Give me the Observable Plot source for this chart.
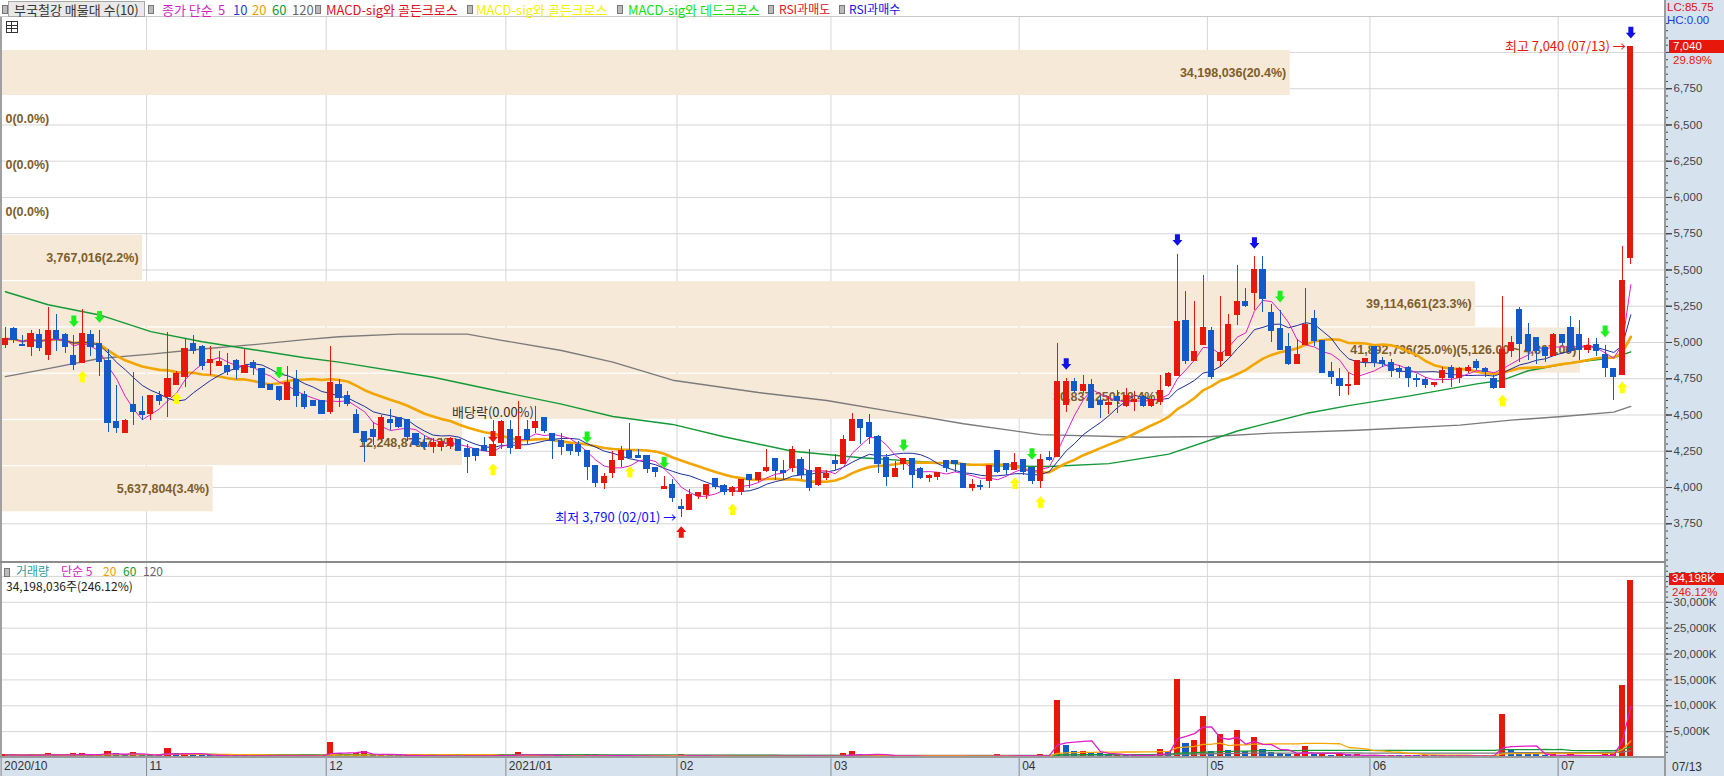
<!DOCTYPE html>
<html><head><meta charset="utf-8">
<script src="https://cdn.jsdelivr.net/npm/d3@7"></script>
<script src="https://cdn.jsdelivr.net/npm/@observablehq/plot@0.6"></script>
<style>
body{margin:0;background:#fff;}
#root{position:relative;width:1724px;height:776px;overflow:hidden;background:#fff;font-family:"Noto Sans CJK KR","Noto Sans",sans-serif;}
.a{position:absolute;white-space:nowrap;line-height:1;}
.lg{font-size:13px;top:3px;}
.mk{position:absolute;top:5px;width:4px;height:7px;background:#bbb;border:1px solid #777;}
svg{position:absolute;left:0;}
</style></head><body>
<div id="root">
  <div class="a" style="left:1664px;top:0;width:60px;height:776px;background:#d7e2ef;"></div>
  <div class="a" style="left:0;top:757px;width:1724px;height:19px;background:#d7e2ef;"></div>
</div>
<script>
// ---------------- DATA ----------------
const monthLabels = ["2020/10","11","12","2021/01","02","03","04","05","06","07"];
const monthStartIdx = [0,17,38,59,79,97,119,141,160,182];
const lastDateLabel = "07/13";
const lowDateLabel = "02/01";
const highDateLabel = "07/13";

const open = [
4985,5090,4980,4970,5050,4915,5080,5050,4905,4860,
5050,4990,4870,4450,4375,4565,4520,4510,4630,4625,
4705,4765,4990,4970,4860,4840,4835,4875,4790,4855,
4815,4705,4695,4605,4740,4640,4595,4595,4520,4705,
4630,4500,4385,4395,4335,4465,4480,4465,4365,4305,
4280,4280,4290,4330,4265,4265,4285,4215,4305,4395,
4265,4395,4410,4480,4370,4320,4295,4290,4250,4145,
4030,4100,4190,4250,4215,4215,4135,3990,4015,3865,
3845,3945,3950,4055,4010,3970,3970,4085,4055,4115,
4195,4110,4135,4190,4115,4020,4065,4180,4165,4320,
4465,4445,4350,4200,4070,4165,4195,4125,4065,4075,
4180,4180,4160,4000,4010,4045,4250,4160,4120,4190,
4135,4045,4205,4210,4570,4730,4665,4705,4595,4570,
4625,4565,4590,4625,4565,4590,4700,4770,5150,4875,
4985,5080,4870,4910,5190,5280,5340,5500,5200,5090,
4970,4850,4985,5160,5010,4795,4750,4700,4710,4865,
4970,4875,4860,4815,4825,4745,4740,4705,4755,4825,
4755,4805,4865,4815,4745,4690,4945,5220,5050,5030,
4960,4910,5050,5100,5050,4950,4980,4910,4815,4780,
5580];
const high = [
5100,5100,5050,5080,5090,5240,5190,5060,5050,5230,
5080,5080,4950,4705,4470,4795,4630,4630,4660,5070,
4800,5030,5050,4980,4970,4940,4925,4885,4955,4875,
4815,4705,4695,4835,4810,4660,4595,4595,4970,4745,
4665,4535,4385,4450,4495,4535,4485,4465,4370,4360,
4335,4335,4345,4330,4300,4265,4345,4460,4460,4460,
4595,4460,4560,4480,4370,4370,4295,4315,4250,4145,
4100,4250,4280,4440,4265,4215,4135,4075,4055,3920,
3985,3960,4020,4055,4020,4005,4055,4085,4100,4265,
4195,4185,4285,4205,4265,4135,4120,4230,4360,4510,
4465,4505,4360,4230,4180,4195,4195,4135,4090,4100,
4180,4180,4160,4055,4045,4145,4250,4160,4235,4190,
4135,4230,4250,4995,4755,4755,4775,4745,4625,4625,
4670,4680,4660,4635,4625,4775,4790,5610,5350,5280,
5460,5100,5320,5190,5530,5370,5590,5590,5260,5220,
5060,5020,5370,5220,5010,4860,4820,4795,4870,4885,
4970,4895,4885,4840,4835,4780,4760,4720,4830,4840,
4830,4840,4880,4825,4770,5320,5040,5240,5130,5030,
4960,5060,5050,5180,5150,5030,5030,4980,4815,5660,
7040];
const low = [
4960,4990,4970,4905,4940,4875,4940,4925,4805,4855,
4905,4765,4380,4375,4375,4430,4460,4460,4565,4485,
4705,4690,4920,4805,4770,4840,4770,4745,4790,4770,
4685,4675,4590,4605,4555,4535,4565,4505,4505,4555,
4560,4375,4175,4290,4315,4395,4405,4315,4280,4265,
4235,4245,4265,4250,4095,4180,4245,4215,4265,4230,
4265,4295,4370,4370,4190,4220,4220,4215,4045,4000,
3985,4065,4140,4200,4200,4095,4070,3990,3900,3790,
3840,3915,3920,3985,3945,3940,3945,3990,4035,4105,
4050,4050,4105,4055,3975,4005,4045,4115,4165,4320,
4295,4295,4100,4005,4070,4115,3990,4055,4035,4050,
4105,4105,4000,3975,3980,3990,4100,4085,4120,4085,
4020,3990,4180,4205,4520,4645,4645,4545,4475,4505,
4510,4555,4525,4555,4555,4565,4690,4770,4850,4875,
4980,4745,4825,4910,5120,5240,5220,5210,5000,4945,
4840,4850,4980,4970,4785,4710,4630,4635,4710,4825,
4825,4830,4760,4755,4690,4690,4685,4690,4715,4690,
4715,4785,4805,4760,4675,4690,4895,4865,4875,4850,
4860,4910,4980,4925,4875,4925,4905,4760,4600,4780,
5540];
const close = [
5025,5020,4975,5060,4960,5080,5025,4970,4845,5055,
4970,4865,4445,4410,4460,4520,4500,4630,4600,4745,
4780,4955,4940,4840,4880,4865,4800,4810,4840,4825,
4690,4675,4605,4720,4635,4555,4565,4505,4720,4620,
4580,4375,4315,4350,4480,4445,4420,4350,4295,4280,
4305,4315,4335,4250,4210,4215,4250,4295,4450,4275,
4345,4330,4450,4390,4320,4280,4250,4245,4140,4035,
4070,4185,4250,4205,4205,4130,4105,4000,3930,3850,
3945,3960,4020,4005,3970,3995,4050,4055,4100,4135,
4115,4100,4260,4085,4000,4135,4090,4165,4330,4465,
4410,4350,4165,4070,4125,4195,4085,4065,4080,4100,
4135,4160,4000,4015,4005,4145,4105,4120,4165,4105,
4045,4190,4190,4730,4730,4665,4705,4550,4570,4585,
4600,4630,4600,4565,4600,4665,4780,5140,4875,4935,
5100,4760,4925,5120,5280,5250,5500,5300,5080,4950,
4850,4915,5120,5010,4790,4760,4700,4705,4870,4885,
4860,4855,4805,4795,4755,4740,4705,4720,4805,4755,
4815,4825,4825,4800,4690,4950,4995,4990,4945,4945,
4910,5050,5000,4945,4950,4975,4945,4825,4765,5420,
7040];
// volume in thousands of shares
const volumeK = [
520,480,350,560,420,700,480,380,600,770,
450,520,1100,650,400,900,450,380,300,1600,
600,750,420,380,350,280,300,260,330,250,
380,220,300,350,320,300,180,200,2800,700,
450,600,1000,500,550,400,300,420,380,300,
260,280,250,300,420,250,230,400,500,350,
900,300,420,300,380,280,230,220,450,420,
300,380,320,350,200,260,220,200,300,420,
350,180,250,220,200,180,250,200,230,300,
260,220,350,280,320,260,200,280,600,1090,
450,380,420,350,220,250,300,220,180,200,
230,180,300,200,170,300,500,250,300,220,
250,500,300,10900,2240,1000,1100,770,640,450,
520,400,350,330,420,1470,960,14900,2560,3200,
7800,1000,4360,1280,5100,1100,3780,1470,960,640,
450,500,2050,500,550,300,640,420,450,300,
350,250,300,220,350,250,280,200,380,300,
350,250,280,220,330,8200,1400,640,500,450,
380,420,350,450,380,300,330,420,600,13895,
34198];
const lastVolume = 34198036;
// 60/120-day price averages (index, value)
const ma60Idx = [0,5,11,17,23,29,35,39,50,58,65,71,78,84,92,100,108,115,122,129,136,144,152,157,164,172,175,178,183,188,190];
const ma60Val = [5350,5260,5190,5075,5005,4950,4895,4865,4760,4660,4575,4490,4435,4350,4250,4205,4175,4150,4145,4165,4230,4390,4510,4565,4630,4715,4740,4805,4860,4895,4935];
const ma120Idx = [0,5,11,17,23,29,35,39,46,54,58,65,71,78,88,96,104,112,121,133,141,148,158,170,176,182,188,190];
const ma120Val = [4765,4820,4890,4920,4955,4985,5020,5040,5058,5058,5015,4945,4865,4740,4655,4600,4520,4440,4365,4347,4352,4375,4395,4430,4465,4490,4520,4559];
// volume-at-price bands (매물대), bottom to top
const bandVol = [5637804,12248875,30837250,41892736,39114661,3767016,0,0,0,34198036];
// signals
const rsiOverboughtIdx = [124,137,146,190];
const rsiOversoldIdx = [79];
const macdGoldYellowIdx = [9,20,57,73,85,118,121,175,189];
const macdDeadIdx = [8,11,32,68,77,105,120,149,187];
const macdGoldRedIdx = [57];
const exDivIdx = 57;
const exDivLabel = "배당락(0.00%)";
const lcLabel = "LC:85.75", hcLabel = "HC:0.00";
const changePct = "29.89%";
const volChangePct = "246.12%";

// ---------------- LAYOUT / HELPERS ----------------
const RED = "#e8170b", BLUE = "#1459c9";
const W = 1724, PW = 1664, STEP = 8.555, PX0 = 4.9;
const xDomain = [-PX0 / STEP, (PW - PX0) / STEP];
const N = close.length;
const idx = d3.range(N);
const volume = volumeK.map(v => v * 1000);
const candles = idx.map(i => ({i, o: open[i], h: high[i], l: low[i], c: close[i], v: volume[i],
  vc: i === 0 || volume[i] >= volume[i - 1] ? RED : BLUE}));
const sma = (arr, n) => arr.map((_, i) => d3.mean(arr.slice(Math.max(0, i - n + 1), i + 1)));
const ma5 = sma(close, 5), ma10 = sma(close, 10), ma20 = sma(close, 20);
const vma5 = sma(volume, 5), vma20 = sma(volume, 20), vma60 = sma(volume, 60), vma120 = sma(volume, 120);
const fmt = d3.format(",");
const fmt2 = d3.format(",.2f");

const bandLo = d3.min(close), bandHi = d3.max(close);
const bStep = (bandHi - bandLo) / bandVol.length;
const bTotal = d3.sum(bandVol), bMax = d3.max(bandVol);
const maxK = d3.maxIndex(bandVol);
const bands = bandVol.map((v, k) => ({k, v, lo: bandLo + bStep * k, hi: bandLo + bStep * (k + 1),
  x2: xDomain[0] + (v / bMax) * 0.9495 * (xDomain[1] - xDomain[0]),
  label: `${fmt(v)}(${(v / bTotal * 100).toFixed(1)}%)` + (k === maxK ? `(${fmt2(bandLo + bStep * (k + 1))} ~ ${fmt2(bandLo + bStep * k)})` : "")}));

const arrowDown = {draw(c) { c.moveTo(-2.5,-5.8); c.lineTo(2.5,-5.8); c.lineTo(2.5,0); c.lineTo(5,0); c.lineTo(0,5.8); c.lineTo(-5,0); c.lineTo(-2.5,0); c.closePath(); }};
const arrowUp = {draw(c) { c.moveTo(-2.5,5.8); c.lineTo(2.5,5.8); c.lineTo(2.5,0); c.lineTo(5,0); c.lineTo(0,-5.8); c.lineTo(-5,0); c.lineTo(-2.5,0); c.closePath(); }};

const monthGrid = monthStartIdx.slice(1).map(i => i - 0.5);
const monthTickPos = monthStartIdx.map(i => i - 0.5);
const monthLabelMap = new Map(monthTickPos.map((p, k) => [p, monthLabels[k]]));
const priceTicks = d3.range(3750, 7001, 250);
// the 7,000 label sits under the current-price box, so only ticks below it are labelled
const priceLabelTicks = priceTicks.filter(t => t < close[close.length - 1] - 100);
const volTicks = d3.range(5e6, 35.1e6, 5e6);
const lowI = d3.minIndex(low), highI = d3.maxIndex(high);
const axisFont = "Liberation Sans, Arial, sans-serif";
const svgStyle = {background: "transparent", overflow: "visible", color: "#444", fontFamily: axisFont};

const line = (xs, ys, stroke, w) => Plot.line(xs.map((x, k) => [x, ys[k]]), {x: d => d[0], y: d => d[1], stroke, strokeWidth: w});

const pricePlot = Plot.plot({
  width: W, height: 562, marginTop: 17, marginBottom: 0, marginLeft: 0, marginRight: W - PW,
  x: {domain: xDomain, axis: null},
  y: {domain: [3483, 7241], axis: null},
  color: {type: "identity"},
  style: svgStyle,
  marks: [
    Plot.ruleY(priceTicks, {stroke: "#d6d6d6"}),
    Plot.ruleX(monthGrid, {stroke: "#d6d6d6"}),
    Plot.rect(bands.filter(d => d.v > 0), {x1: xDomain[0], x2: "x2", y1: "lo", y2: "hi", fill: "#f6e9d8", dy: 3.2, insetTop: 0.6, insetBottom: 0.6}),
    Plot.text(bands.filter(d => d.v > 0), {x: "x2", y: d => (d.lo + d.hi) / 2, text: "label", textAnchor: "end", dx: -4, dy: 3, fill: "#7d5d2b", fontWeight: "bold", fontSize: 12.5, fontFamily: axisFont}),
    Plot.text(bands.filter(d => d.v === 0), {x: xDomain[0], y: d => (d.lo + d.hi) / 2, text: "label", textAnchor: "start", dx: 5, dy: 3, fill: "#7d5d2b", fontWeight: "bold", fontSize: 12.5, fontFamily: axisFont}),
    line(ma120Idx, ma120Val, "#7b7b7b", 1.4),
    line(ma60Idx, ma60Val, "#139a36", 1.4),
    line(idx, ma20, "#f3a600", 2.6),
    line(idx, ma10, "#1d2f9e", 1),
    line(idx, ma5, "#e01fc6", 1),
    Plot.ruleX(candles, {x: "i", y1: "l", y2: "h", stroke: d => d.c >= d.o ? RED : BLUE, strokeWidth: 1, shapeRendering: "crispEdges"}),
    Plot.rect(candles, {x1: d => d.i - 0.36, x2: d => d.i + 0.36, y1: d => Math.min(d.o, d.c), y2: d => Math.max(d.o, d.c), fill: d => d.c >= d.o ? RED : BLUE, insetTop: -0.6, insetBottom: -0.6, shapeRendering: "crispEdges"}),
    Plot.dot(rsiOverboughtIdx, {x: d => d, y: d => high[d], symbol: arrowDown, fill: "#1010e8", stroke: "none", dy: -14}),
    Plot.dot(macdDeadIdx, {x: d => d, y: d => high[d], symbol: arrowDown, fill: "#1bf01b", stroke: "none", dy: -14}),
    Plot.dot(macdGoldYellowIdx, {x: d => d, y: d => low[d], symbol: arrowUp, fill: "#ffff00", stroke: "none", dy: 13}),
    Plot.dot(rsiOversoldIdx, {x: d => d, y: d => low[d], symbol: arrowUp, fill: RED, stroke: "none", dy: 14}),
    Plot.dot(macdGoldRedIdx, {x: d => d, y: d => Math.max(open[d], close[d]), symbol: arrowDown, fill: RED, stroke: "none", dy: -8}),
    Plot.text([exDivIdx], {x: d => d, y: d => high[d], text: () => exDivLabel, dy: -8, fill: "#333", fontSize: 13, fontFamily: "Noto Sans CJK KR, sans-serif"}),
    Plot.text([lowI], {x: d => d, y: d => low[d], text: d => `최저 ${fmt(low[d])} (${lowDateLabel}) →`, textAnchor: "end", dx: -5, fill: "#1010ff", fontSize: 13, fontFamily: "Noto Sans CJK KR, sans-serif"}),
    Plot.text([highI], {x: d => d, y: d => high[d], text: d => `최고 ${fmt(high[d])} (${highDateLabel}) →`, textAnchor: "end", dx: -5, fill: RED, fontSize: 13, fontFamily: "Noto Sans CJK KR, sans-serif"}),
    Plot.axisY({anchor: "right", ticks: d3.range(3500, 7250, 50), tickSize: 3, tickFormat: () => "", label: null}),
    Plot.axisY({anchor: "right", ticks: priceTicks, tickSize: 7, tickFormat: () => "", label: null}),
    Plot.axisY({anchor: "right", ticks: priceLabelTicks, tickSize: 7, tickPadding: 2, tickFormat: fmt, fontSize: 11.5, label: null})
  ]
});

const volPlot = Plot.plot({
  width: W, height: 214, marginTop: 1, marginBottom: 19, marginLeft: 0, marginRight: W - PW,
  x: {domain: xDomain, axis: null},
  y: {domain: [0, 37.5e6], axis: null},
  color: {type: "identity"},
  style: svgStyle,
  marks: [
    Plot.ruleY(volTicks, {stroke: "#d6d6d6"}),
    Plot.ruleX(monthGrid, {stroke: "#d6d6d6"}),
    Plot.rect(candles, {x1: d => d.i - 0.36, x2: d => d.i + 0.36, y1: 0, y2: "v", fill: "vc", insetTop: -0.5, shapeRendering: "crispEdges"}),
    line(idx, vma120, "#7b7b7b", 1.3),
    line(idx, vma60, "#139a36", 1.3),
    line(idx, vma20, "#f3a600", 1.3),
    line(idx, vma5, "#e01fc6", 1.3),
    Plot.axisY({anchor: "right", ticks: d3.range(1e6, 37.5e6, 1e6), tickSize: 3, tickFormat: () => "", label: null}),
    Plot.axisY({anchor: "right", ticks: volTicks, tickSize: 7, tickPadding: 2, tickFormat: d => fmt(d / 1000) + "K", fontSize: 11.5, label: null}),
    Plot.axisX({anchor: "bottom", ticks: monthTickPos, tickSize: 19, tickFormat: () => "", stroke: "#8a8a8a", label: null}),
    Plot.axisX({anchor: "bottom", ticks: monthTickPos, tickSize: 0, tickPadding: 4, tickFormat: d => monthLabelMap.get(d), textAnchor: "start", dx: 3, fontSize: 12, fill: "#333", label: null})
  ]
});

const root = document.getElementById("root");
pricePlot.style.top = "0px";
volPlot.style.top = "562px";
root.appendChild(pricePlot);
root.appendChild(volPlot);

// ---------------- HTML overlays (legend, labels) ----------------
function add(html) { root.insertAdjacentHTML("beforeend", html); }
const lastClose = close[N - 1];
const lastVolK = Math.round(lastVolume / 1000);
add(`<div class="a" style="left:0;top:16px;width:1664px;height:1px;background:#c8c8c8"></div>`);
add(`<div class="a" style="left:0;top:17px;width:2px;height:740px;background:#a0a0a0"></div>`);
add(`<div class="a" style="left:1664px;top:0;width:2px;height:776px;background:#9a9a9a"></div>`);
add(`<div class="a" style="left:0;top:561px;width:1666px;height:2px;background:#8c8c8c"></div>`);
add(`<div class="a" style="left:0;top:756px;width:1666px;height:2px;background:#9a9a9a"></div>`);
// top legend
add(`<div class="mk" style="left:2px"></div>`);
add(`<div class="a" style="left:8px;top:1px;width:135px;height:14px;background:#e9e9e9;border:1px solid #a8a8a8;"></div>`);
add(`<div class="a lg" style="left:14px;color:#333">부국철강 매물대 수(10)</div>`);
add(`<div class="mk" style="left:148px"></div>`);
add(`<div class="a lg" style="left:162px;color:#d61fbf">종가 단순</div>`);
add(`<div class="a lg" style="left:218px;color:#d61fbf">5</div>`);
add(`<div class="a lg" style="left:233px;color:#1f3fd0">10</div>`);
add(`<div class="a lg" style="left:252px;color:#f0a000">20</div>`);
add(`<div class="a lg" style="left:272px;color:#109a30">60</div>`);
add(`<div class="a lg" style="left:292px;color:#666">120</div>`);
add(`<div class="mk" style="left:315px"></div>`);
add(`<div class="a lg" style="left:326px;color:#e0101a">MACD-sig와 골든크로스</div>`);
add(`<div class="mk" style="left:467px"></div>`);
add(`<div class="a lg" style="left:476px;color:#f5f000">MACD-sig와 골든크로스</div>`);
add(`<div class="mk" style="left:617px"></div>`);
add(`<div class="a lg" style="left:628px;color:#10e010">MACD-sig와 데드크로스</div>`);
add(`<div class="mk" style="left:768px"></div>`);
add(`<div class="a lg" style="left:779px;color:#e0101a;font-size:12px">RSI과매도</div>`);
add(`<div class="mk" style="left:839px"></div>`);
add(`<div class="a lg" style="left:849px;color:#1010e0;font-size:12px">RSI과매수</div>`);
add(`<div class="a" style="left:6px;top:21px;width:10px;height:10px;border:1px solid #333;background:linear-gradient(#333,#333) 0 3px/100% 1px no-repeat,linear-gradient(#333,#333) 0 6px/100% 1px no-repeat,linear-gradient(#333,#333) 4px 0/1px 100% no-repeat;"></div>`);
// right-top info
add(`<div class="a" style="left:1667px;top:2px;font-size:11.5px;color:#e0101a;font-family:${axisFont}">${lcLabel}</div>`);
add(`<div class="a" style="left:1667px;top:15px;font-size:11.5px;color:#1a3ad8;font-family:${axisFont}">${hcLabel}</div>`);
add(`<div class="a" style="left:1669px;top:40px;width:55px;height:13px;background:#e8170b;"></div>`);
add(`<div class="a" style="left:1673px;top:40.5px;font-size:11.5px;color:#fff;font-family:${axisFont}">${fmt(lastClose)}</div>`);
add(`<div class="a" style="left:1673px;top:54.5px;font-size:11.5px;color:#e8170b;font-family:${axisFont}">${changePct}</div>`);
// volume panel info
add(`<div class="a" style="left:1669px;top:573px;width:55px;height:12px;background:#e8170b;"></div>`);
add(`<div class="a" style="left:1672px;top:573px;font-size:11.5px;color:#fff;font-family:${axisFont}">${fmt(lastVolK)}K</div>`);
add(`<div class="a" style="left:1672px;top:587px;font-size:11.5px;color:#e8170b;font-family:${axisFont}">${volChangePct}</div>`);
add(`<div class="mk" style="left:4px;top:568px"></div>`);
add(`<div class="a" style="left:16px;top:565px;font-size:12px;color:#2f9c9c">거래량</div>`);
add(`<div class="a" style="left:61px;top:565px;font-size:12px;color:#d61fbf">단순 5</div>`);
add(`<div class="a" style="left:103px;top:565px;font-size:12px;color:#f0a000">20</div>`);
add(`<div class="a" style="left:123px;top:565px;font-size:12px;color:#109a30">60</div>`);
add(`<div class="a" style="left:143px;top:565px;font-size:12px;color:#666">120</div>`);
add(`<div class="a" style="left:6px;top:580px;font-size:12px;color:#222">${fmt(lastVolume)}주(${volChangePct})</div>`);
add(`<div class="a" style="left:1672px;top:761px;font-size:12px;color:#333;font-family:${axisFont}">${lastDateLabel}</div>`);
</script>
</body></html>
